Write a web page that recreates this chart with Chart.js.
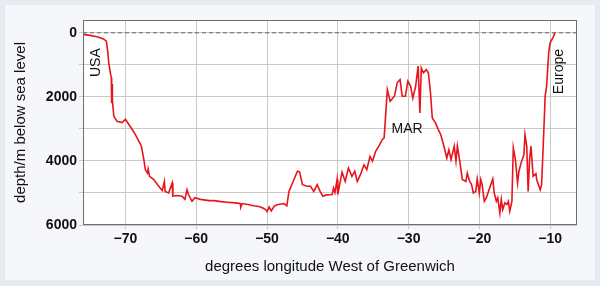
<!DOCTYPE html>
<html>
<head>
<meta charset="utf-8">
<script src="https://cdn.jsdelivr.net/npm/chart.js@4"></script>
<style>
  html, body { margin: 0; padding: 0; background: #e6ebf1; }
  #wrap { width: 600px; height: 286px; }
</style>
</head>
<body>
<div id="wrap"><canvas id="myChart" width="600" height="286"></canvas></div>
<script>
// Data (degrees longitude, depth in m)
const longitude = [
  -76.0, -75.0, -74.0, -73.1, -72.7, -72.5, -72.36, -72.1, -72.0, -71.95, -71.9, -71.85, -71.65, -71.2, -70.5,
  -70.0, -69.5, -69.05, -68.6, -68.1, -67.75, -67.4, -67.2, -66.9, -66.8, -66.6, -66.0, -65.3, -64.8, -64.5,
  -64.4, -63.9, -63.4, -63.3, -62.7, -62.0, -61.6, -61.3, -61.1, -60.6, -60.2, -59.4, -58.2, -57.5, -56.5,
  -55.6, -54.5, -53.8, -53.7, -53.5, -52.7, -51.9, -51.0, -50.6, -50.2, -50.0, -49.7, -49.4, -49.0, -48.6,
  -47.6, -47.2, -46.9, -46.4, -45.7, -45.4, -45.0, -44.3, -43.85, -43.4, -42.9, -42.5, -42.1, -41.6, -40.8,
  -40.6, -40.4, -40.1, -40.0, -39.4, -38.95, -38.5, -38.0, -37.6, -37.25, -36.8, -36.3, -35.9, -35.45, -35.1,
  -34.65, -34.2, -33.7, -33.45, -33.0, -32.6, -32.0, -31.6, -31.2, -30.9, -30.45, -30.1, -29.7, -29.4, -29.0,
  -28.65, -28.4, -28.2, -27.9, -27.5, -27.2, -26.9, -26.65, -26.2, -25.8, -25.45, -25.0, -24.6, -24.3, -24.0,
  -23.55, -23.3, -23.1, -22.8, -22.4, -21.9, -21.7, -21.4, -21.1, -20.85, -20.5, -20.3, -20.0, -19.8, -19.6,
  -19.3, -19.0, -18.7, -18.3, -18.1, -17.9, -17.6, -17.4, -17.1, -16.9, -16.7, -16.4, -16.1, -15.9, -15.7,
  -15.4, -15.2, -14.9, -14.6, -14.4, -14.1, -13.7, -13.55, -13.3, -13.1, -12.9, -12.7, -12.4, -12.0, -11.9,
  -11.4, -11.2, -10.9, -10.7, -10.5, -10.2, -10.0, -9.6, -9.3
];
const depth = [
  50, 80, 120, 190, 260, 600, 940, 1300, 1400, 2200, 1600, 2100, 2600, 2760, 2800,
  2700, 2870, 3020, 3180, 3390, 3540, 3960, 4270, 4380, 4250, 4480, 4580, 4790, 4920, 4640,
  4950, 5000, 4690, 5100, 5080, 5100, 5200, 4900, 5050, 5260, 5150, 5200, 5240, 5240, 5270,
  5290, 5310, 5330, 5440, 5330, 5360, 5400, 5430, 5470, 5520, 5580, 5440, 5560, 5420, 5370,
  5330, 5400, 4950, 4690, 4320, 4340, 4740, 4790, 4790, 4950, 4740, 4950, 5100, 5060, 5050,
  4850, 4990, 4580, 5050, 4350, 4640, 4220, 4480, 4320, 4640, 4430, 4120, 4270, 3860, 4010,
  3700, 3540, 3330, 3280, 1770, 2140, 1980, 1560, 1460, 1980, 1980, 1510, 1670, 2040, 1670,
  1040, 2500, 1100, 1250, 1150, 1250, 1880, 2660, 2810, 3020, 3180, 3540, 3910, 3650, 3960,
  3540, 4010, 3540, 3960, 4580, 4640, 4380, 4620, 4740, 5000, 4950, 4560, 5000, 4580, 4740,
  5260, 5150, 4950, 4690, 4560, 5000, 5260, 5150, 5630, 5200, 5520, 5310, 5360, 5260, 5570,
  5260, 3590, 3960, 4690, 4320, 4060, 3800, 3180, 3540, 4950, 3960, 3540, 4480, 4400, 4580,
  4900, 4740, 3130, 1980, 1670, 625, 310, 150, 0
];
const seaLevel = [0, 0];
const xRange = [-76, -6.2];
const yRange = [-400, 6000];
const xTicks = [-70, -60, -50, -40, -30, -20, -10];
const yTicks = [0, 1000, 2000, 3000, 4000, 5000, 6000];
const labels = [
  { text: 'USA', x: -74.2, y: 930, rotate: true },
  { text: 'Europe', x: -8.7, y: 1210, rotate: true },
  { text: 'MAR', x: -30.2, y: 3020, rotate: false }
];

const FONT = '"Liberation Sans", Arial, sans-serif';

const background = {
  id: 'background',
  beforeDraw(chart) {
    const ctx = chart.ctx;
    const a = chart.chartArea;
    ctx.save();
    ctx.fillStyle = '#e6ebf1';
    ctx.fillRect(0, 0, chart.width, chart.height);
    ctx.fillStyle = '#f5f7fa';
    ctx.fillRect(5, 5, chart.width - 10, chart.height - 11);
    ctx.fillStyle = '#ffffff';
    ctx.fillRect(a.left, a.top, a.right - a.left, a.bottom - a.top);
    ctx.restore();
  },
  afterDraw(chart) {
    const ctx = chart.ctx;
    const a = chart.chartArea;
    const xs = chart.scales.x, ys = chart.scales.y;
    ctx.save();
    ctx.strokeStyle = '#6e6e6e';
    ctx.lineWidth = 1;
    ctx.strokeRect(a.left + 0.5, a.top + 0.5, a.right - a.left - 1, a.bottom - a.top - 1);
    ctx.fillStyle = '#111';
    ctx.font = '14px ' + FONT;
    ctx.textAlign = 'center';
    ctx.textBaseline = 'middle';
    labels.forEach(function (l) {
      const px = xs.getPixelForValue(l.x);
      const py = ys.getPixelForValue(l.y);
      ctx.save();
      ctx.translate(px, py);
      if (l.rotate) ctx.rotate(-Math.PI / 2);
      ctx.fillText(l.text, 0, 0);
      ctx.restore();
    });
    ctx.restore();
  }
};

const data = {
  datasets: [
    {
      label: 'depth',
      data: longitude.map(function (v, i) { return { x: v, y: depth[i] }; }),
      borderColor: '#e8141c',
      borderWidth: 1.6,
      pointRadius: 0,
      tension: 0,
      order: 1
    },
    {
      label: 'sea level',
      data: xRange.map(function (v, i) { return { x: v, y: seaLevel[i] }; }),
      borderColor: '#666',
      borderWidth: 1,
      borderDash: [4, 3],
      pointRadius: 0,
      order: 2
    }
  ]
};

const config = {
  type: 'line',
  data,
  plugins: [background],
  options: {
    responsive: false,
    animation: false,
    layout: { padding: { top: 20, right: 23, left: 12, bottom: 10 } },
    plugins: { legend: { display: false }, tooltip: { enabled: false } },
    scales: {
      x: {
        type: 'linear',
        min: xRange[0],
        max: xRange[1],
        afterBuildTicks: function (scale) { scale.ticks = xTicks.map(function (v) { return { value: v }; }); },
        afterFit: function (scale) { scale.height = 51; },
        grid: { color: '#c9c9c9', tickLength: 4 },
        border: { display: false },
        ticks: {
          color: '#111',
          font: { family: FONT, size: 14, weight: 'bold' },
          padding: 2,
          maxRotation: 0,
          callback: function (v) { return String(v).replace('-', '\u2212'); }
        },
        title: {
          display: true,
          text: 'degrees longitude West of Greenwich',
          color: '#111',
          font: { family: FONT, size: 15 },
          padding: { top: 4, bottom: 0 }
        }
      },
      y: {
        type: 'linear',
        reverse: true,
        min: yRange[0],
        max: yRange[1],
        afterBuildTicks: function (scale) { scale.ticks = yTicks.map(function (v) { return { value: v }; }); },
        afterFit: function (scale) { scale.width = 71; },
        grid: { color: '#c9c9c9', tickLength: 4 },
        border: { display: false },
        ticks: {
          color: '#111',
          font: { family: FONT, size: 14, weight: 'bold' },
          padding: 2,
          callback: function (v) { return v % 2000 === 0 ? v : ''; }
        },
        title: {
          display: true,
          text: 'depth/m below sea level',
          color: '#111',
          font: { family: FONT, size: 15 },
          padding: { top: 0, bottom: 4 }
        }
      }
    }
  }
};

const myChart = new Chart(document.getElementById('myChart'), config);
</script>
</body>
</html>
